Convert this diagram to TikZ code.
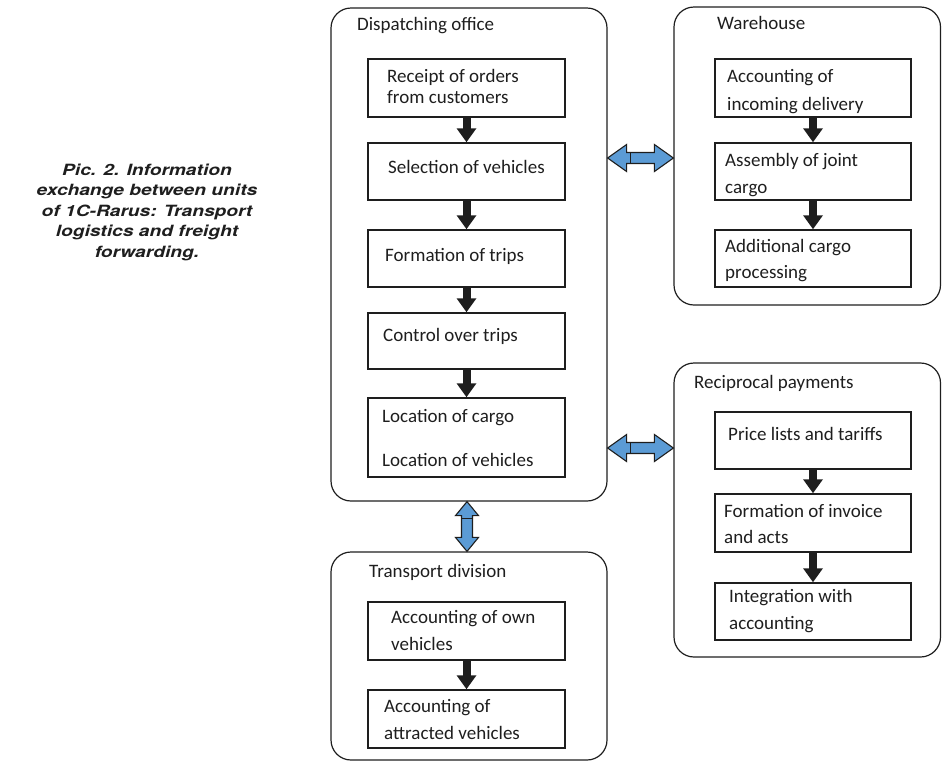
\documentclass[tikz,border=0pt]{standalone}
\usepackage{fontspec}
\setmainfont{Carlito}
\newfontfamily\captionfont[FakeStretch=1.24]{TeX Gyre Heros}
\usetikzlibrary{arrows.meta,calc}
\definecolor{linegray}{HTML}{1E1E1E}
\definecolor{arrowblue}{HTML}{5B9BD5}
\tikzset{
  unitbox/.style={draw=linegray, line width=1.2pt, rounded corners=20pt, inner sep=0pt},
  stepbox/.style={draw=linegray, line width=1.5pt, inner sep=0pt, minimum width=197pt},
  txt/.style={anchor=base west, inner sep=0pt, font=\fontsize{19}{22}\selectfont, text=linegray},
  flow/.style={draw=linegray, line width=8pt, -{Triangle[width=19pt,length=14pt]}},
  barrow/.style={draw=linegray, line width=1.1pt, fill=arrowblue, line join=miter},
  midline/.style={draw=linegray, line width=1.1pt}
}
\begin{document}
\begin{tikzpicture}[x=1pt, y=-1pt]
\useasboundingbox (0,0) rectangle (942,761);
\clip (0,0) rectangle (942,761);

% caption
\node[align=center, inner sep=0pt, text=linegray,
      font=\captionfont\fontsize{15.5}{20.5}\selectfont\bfseries\itshape] (cap) at (147,212)
  {Pic. 2. Information\\exchange between units\\of 1C-Rarus: Transport\\logistics and freight\\forwarding.};

% units
\node[unitbox, minimum width=276pt, minimum height=493pt] (disp) at (469,254.5) {};
\node[unitbox, minimum width=266.5pt, minimum height=298pt] (wh) at (807.25,156) {};
\node[unitbox, minimum width=266.5pt, minimum height=294pt] (pay) at (807.25,510) {};
\node[unitbox, minimum width=276pt, minimum height=208pt] (trans) at (469,656) {};

\node[txt] (dispT) at (357,30) {Dispatching office};
\node[txt] (whT) at (717,29) {Warehouse};
\node[txt] (payT) at (694,388) {Reciprocal payments};
\node[txt] (transT) at (369,577) {Transport division};

% dispatching office steps
\node[stepbox, minimum height=58pt] (d1) at (466.5,88) {};
\node[stepbox, minimum height=57pt] (d2) at (466.5,171.5) {};
\node[stepbox, minimum height=57pt] (d3) at (466.5,258.5) {};
\node[stepbox, minimum height=56pt] (d4) at (466.5,341) {};
\node[stepbox, minimum height=79pt] (d5) at (466.5,437.5) {};
\node[txt] (d1a) at (387,82) {Receipt of orders};
\node[txt] (d1b) at (387,103) {from customers};
\node[txt] (d2a) at (388,173) {Selection of vehicles};
\node[txt] (d3a) at (385,261) {Formation of trips};
\node[txt] (d4a) at (383,341) {Control over trips};
\node[txt] (d5a) at (382,422) {Location of cargo};
\node[txt] (d5b) at (382,466) {Location of vehicles};
\draw[flow] (d1.south) -- (d2.north);
\draw[flow] (d2.south) -- (d3.north);
\draw[flow] (d3.south) -- (d4.north);
\draw[flow] (d4.south) -- (d5.north);

% warehouse steps
\node[stepbox, minimum width=196pt, minimum height=58pt] (w1) at (813,88) {};
\node[stepbox, minimum width=196pt, minimum height=57pt] (w2) at (813,171.5) {};
\node[stepbox, minimum width=196pt, minimum height=57pt] (w3) at (813,258.5) {};
\node[txt] (w1a) at (727,82) {Accounting of};
\node[txt] (w1b) at (727,110) {incoming delivery};
\node[txt] (w2a) at (725,166) {Assembly of joint};
\node[txt] (w2b) at (725,193) {cargo};
\node[txt] (w3a) at (725,252) {Additional cargo};
\node[txt] (w3b) at (725,278) {processing};
\draw[flow] (w1.south) -- (w2.north);
\draw[flow] (w2.south) -- (w3.north);

% reciprocal payments steps
\node[stepbox, minimum width=196pt, minimum height=57pt] (p1) at (813,440.5) {};
\node[stepbox, minimum width=196pt, minimum height=58pt] (p2) at (813,523) {};
\node[stepbox, minimum width=196pt, minimum height=57pt] (p3) at (813,611.5) {};
\node[txt] (p1a) at (728,440) {Price lists and tariffs};
\node[txt] (p2a) at (724,517) {Formation of invoice};
\node[txt] (p2b) at (724,543) {and acts};
\node[txt] (p3a) at (729,602) {Integration with};
\node[txt] (p3b) at (729,629) {accounting};
\draw[flow] (p1.south) -- (p2.north);
\draw[flow] (p2.south) -- (p3.north);

% transport division steps
\node[stepbox, minimum height=58pt] (t1) at (466.5,631) {};
\node[stepbox, minimum height=58pt] (t2) at (466.5,719) {};
\node[txt] (t1a) at (391,623) {Accounting of own};
\node[txt] (t1b) at (391,650) {vehicles};
\node[txt] (t2a) at (384,712) {Accounting of};
\node[txt] (t2b) at (384,739) {attracted vehicles};
\draw[flow] (t1.south) -- (t2.north);

% information exchange: horizontal double arrows
\coordinate (hA) at ([yshift=96.5pt]disp.east);
\coordinate (hB) at (hA -| wh.west);
\draw[barrow] (hA) -- ++(19,-13.5) -- ++(0,8) -- ($(hB)+(-19,-5.5)$) -- ++(0,-8) -- (hB)
  -- ++(-19,13.5) -- ++(0,-8) -- ($(hA)+(19,5.5)$) -- ++(0,8) -- cycle;
\draw[midline] ($(hA)+(23,-5.5)$) -- ($(hA)+(23,5.5)$);

\coordinate (hC) at ([yshift=-193.5pt]disp.east);
\coordinate (hD) at (hC -| pay.west);
\draw[barrow] (hC) -- ++(19,-13.5) -- ++(0,8) -- ($(hD)+(-19,-5.5)$) -- ++(0,-8) -- (hD)
  -- ++(-19,13.5) -- ++(0,-8) -- ($(hC)+(19,5.5)$) -- ++(0,8) -- cycle;
\draw[midline] ($(hC)+(23,-5.5)$) -- ($(hC)+(23,5.5)$);

% information exchange: vertical double arrow
\coordinate (vA) at ([xshift=-2pt]disp.south);
\coordinate (vB) at (vA |- trans.north);
\draw[barrow] (vA) -- ++(-11.5,14) -- ++(6,0) -- ($(vB)+(-5.5,-14)$) -- ++(-6,0) -- (vB)
  -- ++(11.5,-14) -- ++(-6,0) -- ($(vA)+(5.5,14)$) -- ++(6,0) -- cycle;
\draw[midline] ($(vA)+(-5.5,17)$) -- ($(vA)+(5.5,17)$);
\end{tikzpicture}
\end{document}
